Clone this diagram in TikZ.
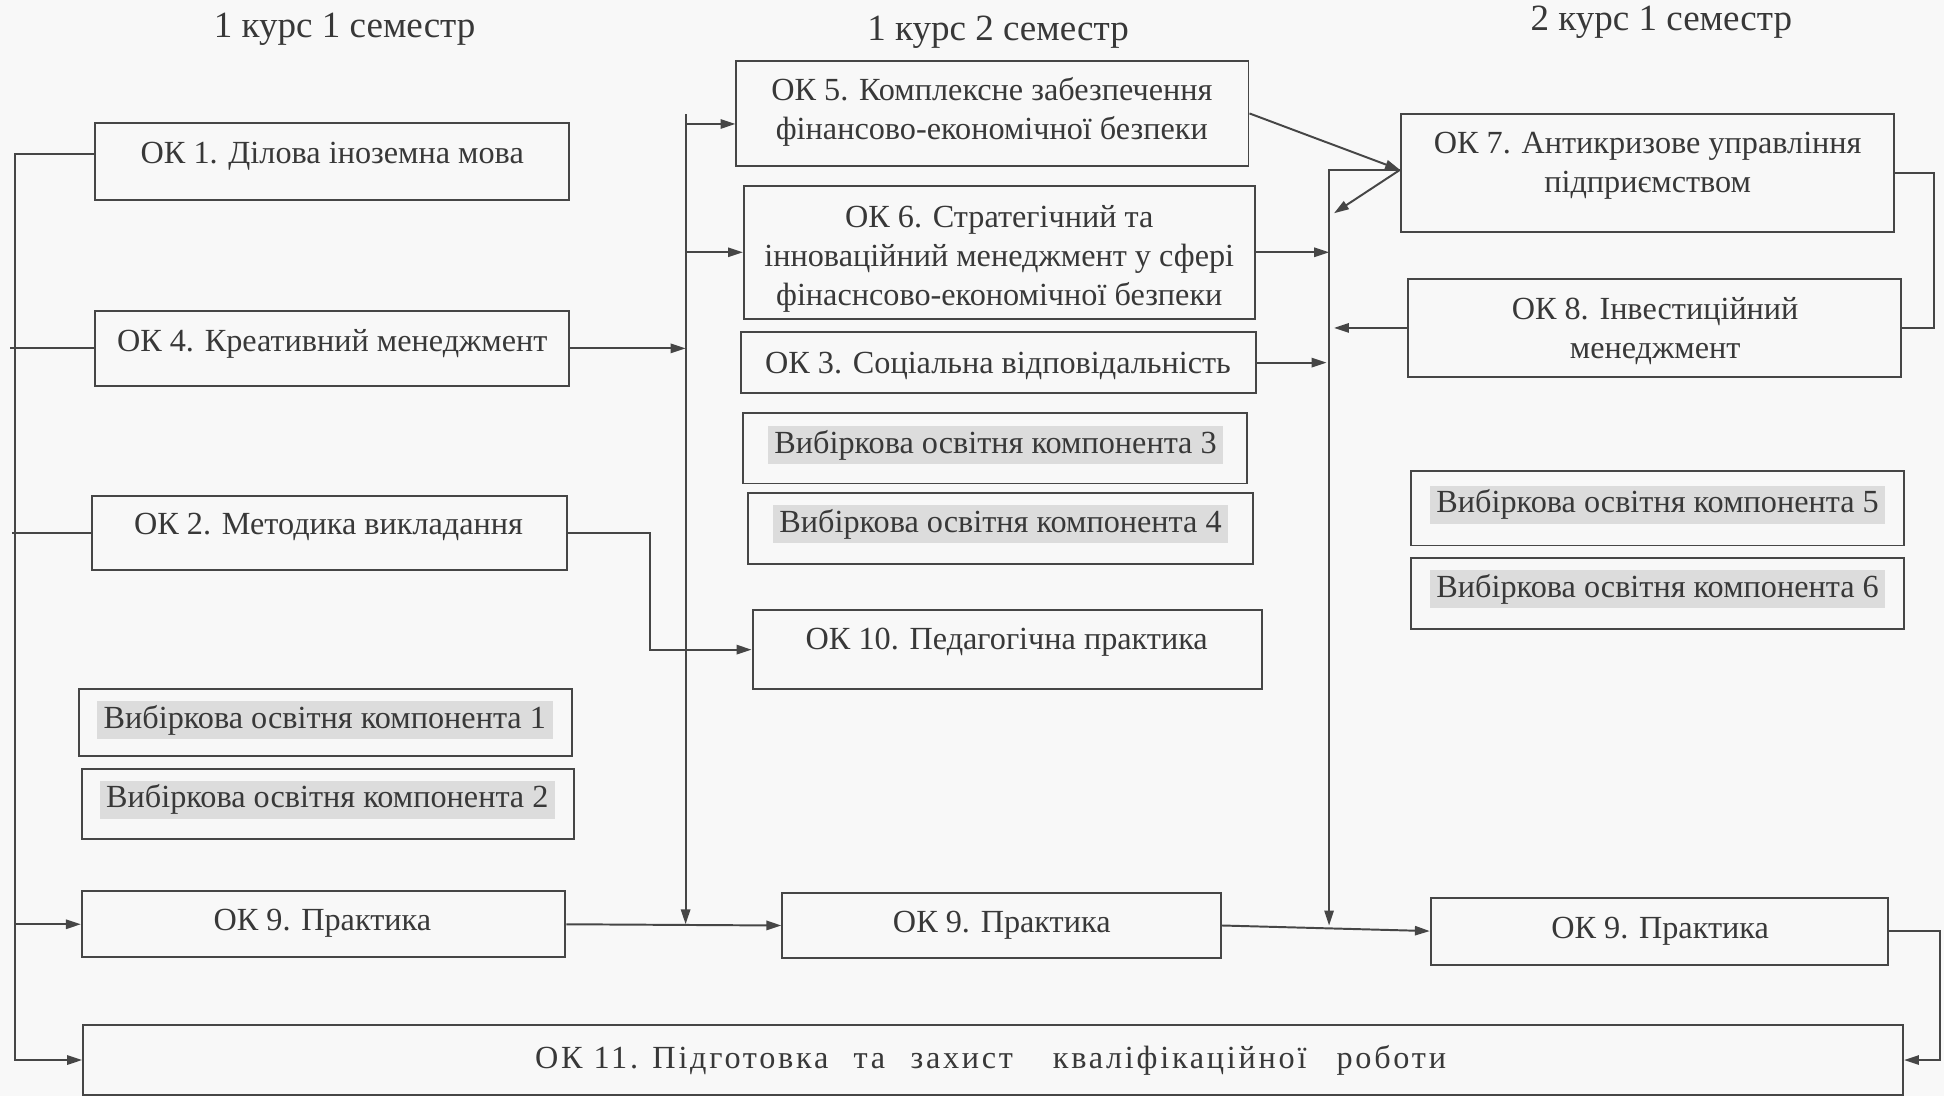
\documentclass[tikz,border=0pt]{standalone}
\usepackage{fontspec}
\setmainfont{Liberation Serif}
\newfontfamily\spaced[LetterSpace=8.5]{Liberation Serif}
\usetikzlibrary{arrows.meta,fit,calc}
\definecolor{ink}{HTML}{383838}
\definecolor{linec}{HTML}{464646}
\definecolor{paper}{HTML}{F8F8F8}
\definecolor{hl}{HTML}{DCDCDC}
\begin{document}
\begin{tikzpicture}[x=0.02cm,y=-0.02cm,
 box/.style={draw=linec, line width=0.9pt, inner sep=0pt, rectangle},
 txt/.style={text=ink, font=\fontsize{14.8}{18}\selectfont, align=center, inner sep=0pt},
 ttl/.style={text=ink, font=\fontsize{17}{20}\selectfont, inner sep=0pt},
 hlt/.style={txt, fill=hl, inner xsep=3pt, inner ysep=2pt, text height=10.5pt, text depth=3pt},
 con/.style={draw=linec, line width=0.9pt},
 arr/.style={con, -{Triangle[length=0.24cm,width=0.15cm]}}
]
\fill[paper] (0,0) rectangle (1568,884);
\useasboundingbox (0,0) rectangle (1568,884);

% titles
\node[ttl] (t1) at (278,24) {1 курс 1 семестр};
\node[ttl] (t2) at (805,26) {1 курс 2 семестр};
\node[ttl] (t3) at (1340,18) {2 курс 1 семестр};

% left column
\node[box, fit={(77,99)(459,161)}] (ok1) {};
\node[txt] (ok1t) at (268,126) {ОК 1. Ділова іноземна мова};
\node[box, fit={(77,251)(459,311)}] (ok4) {};
\node[txt] (ok4t) at (268,277) {ОК 4. Креативний менеджмент};
\node[box, fit={(74,400)(457,460)}] (ok2) {};
\node[txt] (ok2t) at (265,425) {ОК 2. Методика викладання};
\node[box, fit={(64,556)(461,610)}] (v1) {};
\node[hlt] (v1t) at (262,581) {Вибіркова освітня компонента 1};
\node[box, fit={(66,620)(463,677)}] (v2) {};
\node[hlt] (v2t) at (264,645) {Вибіркова освітня компонента 2};
\node[box, fit={(66,719)(456,772)}] (ok9a) {};
\node[txt] (ok9at) at (260,745) {ОК 9. Практика};

% middle column
\node[box, fit={(594,49)(1007,134)}] (ok5) {};
\node[txt] (ok5t) at (800,90) {ОК 5. Комплексне забезпечення\\фінансово-економічної безпеки};
\node[box, fit={(600,150)(1012,257)}] (ok6) {};
\node[txt] (ok6t) at (806,209) {ОК 6. Стратегічний та\\інноваційний менеджмент у сфері\\фінаснсово-економічної безпеки};
\node[box, fit={(598,268)(1013,317)}] (ok3) {};
\node[txt] (ok3t) at (805,295) {ОК 3. Соціальна відповідальність};
\node[box, fit={(599,333)(1006,390)}] (v3) {};
\node[hlt] (v3t) at (803,359) {Вибіркова освітня компонента 3};
\node[box, fit={(603,398)(1011,455)}] (v4) {};
\node[hlt] (v4t) at (807,423) {Вибіркова освітня компонента 4};
\node[box, fit={(607,492)(1018,556)}] (ok10) {};
\node[txt] (ok10t) at (812,518) {ОК 10. Педагогічна практика};
\node[box, fit={(631,720)(985,773)}] (ok9b) {};
\node[txt] (ok9bt) at (808,746) {ОК 9. Практика};

% right column
\node[box, fit={(1130,92)(1528,187)}] (ok7) {};
\node[txt] (ok7t) at (1329,134) {ОК 7. Антикризове управління\\підприємством};
\node[box, fit={(1136,225)(1533,304)}] (ok8) {};
\node[txt] (ok8t) at (1335,267) {ОК 8. Інвестиційний\\менеджмент};
\node[box, fit={(1138,380)(1536,440)}] (v5) {};
\node[hlt] (v5t) at (1337,407) {Вибіркова освітня компонента 5};
\node[box, fit={(1138,450)(1536,507)}] (v6) {};
\node[hlt] (v6t) at (1337,475) {Вибіркова освітня компонента 6};
\node[box, fit={(1154,724)(1523,778)}] (ok9c) {};
\node[txt] (ok9ct) at (1339,751) {ОК 9. Практика};

% bottom
\node[box, fit={(67,827)(1535,883)}] (ok11) {};
\node[txt] (ok11t) at (799,855) {\spaced ОК 11. Підготовка\hspace{0.45em} та\hspace{0.45em} захист\hspace{0.9em} кваліфікаційної\hspace{0.6em} роботи};

% helper coordinates
\coordinate (lbx) at (12,0);
\coordinate (mbx) at (553,0);
\coordinate (rbx) at (1072,0);
\coordinate (jx) at (524,0);
\coordinate (rbr) at (1560,0);
\coordinate (rr) at (1565,0);
\coordinate (mbtop) at (553,92);
\coordinate (y100) at (0,100);
\coordinate (y124) at (0,124);
\coordinate (y137) at (0,137);
\coordinate (k7) at (ok7.west |- y137);
\coordinate (b7) at (1076,172);

% left bus
\draw[arr] (ok1.west |- y124) -| (lbx |- ok11.west) -- (ok11.west);
\draw[con] (ok4.west) -- ([xshift=-0.08cm]lbx |- ok4.west);
\draw[con] (ok2.west) -- ([xshift=-0.04cm]lbx |- ok2.west);
\draw[arr] (lbx |- ok9a.west) -- (ok9a.west);

% middle bus
\draw[arr] (mbtop) -- (mbx |- ok9a.east);
\draw[arr] (mbx |- y100) -- (ok5.west |- y100);
\draw[arr] (mbx |- ok6.west) -- (ok6.west);
\draw[arr] (ok4.east) -- (mbx |- ok4.east);
\draw[arr] (ok2.east) -| (jx |- ok10.west) -- (ok10.west);
\draw[arr] (ok9a.east) -- (ok9b.west);

% right bus
\draw[arr] (k7) -- (rbx |- k7) -- (rbx |- ok9b.east);
\draw[arr] (ok5.east) -- (k7);
\draw[arr] (k7) -- (b7);
\draw[arr] (ok6.east) -- (rbx |- ok6.east);
\draw[arr] (ok3.east) -- ([xshift=-0.04cm]rbx |- ok3.east);
\draw[arr, shorten >=0.08cm] (ok8.west) -- (rbx |- ok8.west);
\draw[con] (ok7.east) -| (rbr |- ok8.east) -- (ok8.east);
\draw[arr] (ok9b.east) -- (ok9c.west);
\draw[arr] (ok9c.east) -| (rr |- ok11.east) -- (ok11.east);
\end{tikzpicture}
\end{document}
